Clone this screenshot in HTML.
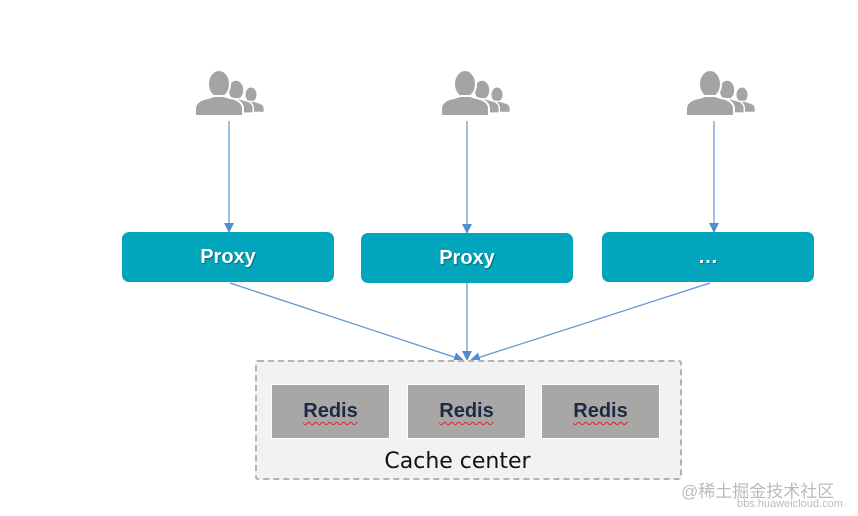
<!DOCTYPE html>
<html><head><meta charset="utf-8"><style>
html,body{margin:0;padding:0;background:#fff;}
body{width:858px;height:516px;position:relative;overflow:hidden;font-family:"Liberation Sans",sans-serif;}
.proxy{position:absolute;height:50px;background:#02a6bc;border-radius:7px;color:#fff;font-weight:bold;font-size:20px;text-align:center;line-height:50px;text-shadow:1px 1px 1px rgba(0,0,0,.35);}
.cc{position:absolute;left:255px;top:360px;width:423px;height:116px;border:2px dashed #b3b3b3;background:#f2f2f2;border-radius:3px;}
.redis{position:absolute;top:384px;width:117px;height:53px;background:#a9a6a6;border:1px solid #fff;color:#1c2a44;font-weight:bold;font-size:20px;text-align:center;line-height:53px;}
.redis span{text-decoration:underline wavy #d23;text-decoration-thickness:1px;text-underline-offset:4px;}
</style></head><body>
<svg width="858" height="516" style="position:absolute;left:0;top:0">
<defs>
<g id="p"><ellipse cx="0" cy="14" rx="11" ry="14"/><path d="M-24,46 L-24,38 Q-23,30 -11,28 L-5,26 L5,26 L11,28 Q23,30 24,38 L24,46 Z"/></g>
<g id="grp" fill="#a4a4a4" stroke="#fff" stroke-width="2">
<use href="#p" transform="translate(32,17) scale(0.55)"/>
<use href="#p" transform="translate(17,10) scale(0.72)"/>
<use href="#p" transform="translate(0,0)"/>
</g>
<marker id="a" markerWidth="10" markerHeight="10" refX="9" refY="5" orient="auto" markerUnits="userSpaceOnUse"><path d="M0,0 L10,5 L0,10 Z" fill="#4f8fd0"/></marker>
</defs>
<use href="#grp" transform="translate(219,70)"/>
<use href="#grp" transform="translate(465,70)"/>
<use href="#grp" transform="translate(710,70)"/>
<g stroke="#5b95d0" stroke-width="1.2" fill="none" marker-end="url(#a)">
<line x1="229" y1="121" x2="229" y2="232"/>
<line x1="467" y1="121" x2="467" y2="233"/>
<line x1="714" y1="121" x2="714" y2="232"/>
<line x1="230" y1="283" x2="463" y2="360"/>
<line x1="467" y1="283" x2="467" y2="360"/>
<line x1="710" y1="283" x2="471" y2="360"/>
</g>
</svg>
<div class="proxy" style="left:122px;top:232px;width:212px;">Proxy</div>
<div class="proxy" style="left:361px;top:233px;width:212px;">Proxy</div>
<div class="proxy" style="left:602px;top:232px;width:212px;">…</div>
<div class="cc"></div>
<div class="redis" style="left:271px;"><span>Redis</span></div>
<div class="redis" style="left:407px;"><span>Redis</span></div>
<div class="redis" style="left:541px;"><span>Redis</span></div>
<div style="position:absolute;left:244px;width:427px;top:449px;text-align:center;font-size:22px;color:#111;font-family:'DejaVu Sans',sans-serif;">Cache center</div>
<div style="position:absolute;left:681px;top:477px;font-size:17px;color:#bbb;font-family:'Liberation Sans','Noto Sans CJK SC',sans-serif;">@稀土掘金技术社区</div>
<div style="position:absolute;left:737px;top:498px;font-size:11px;color:#bbb;">bbs.huaweicloud.com</div>
</body></html>
